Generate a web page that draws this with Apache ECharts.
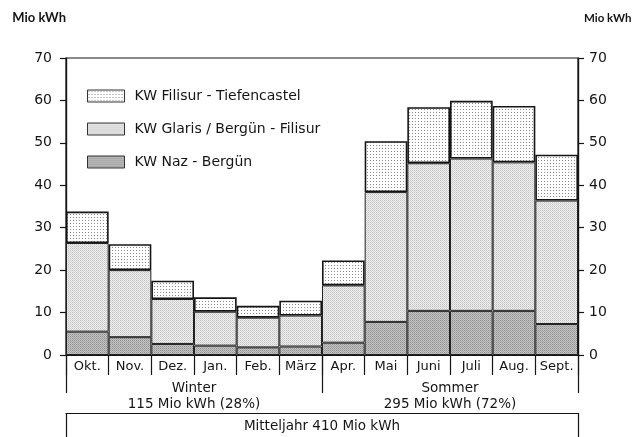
<!DOCTYPE html>
<html><head><meta charset="utf-8">
<script src="https://cdn.jsdelivr.net/npm/echarts@6/dist/echarts.min.js"></script>
<style>html,body{margin:0;padding:0;background:#fff}#c{width:632px;height:437px}</style>
</head><body><div id="c"></div>
<script>
const months = ['Okt.','Nov.','Dez.','Jan.','Feb.','März','Apr.','Mai','Juni','Juli','Aug.','Sept.'];
const seasons = ['Winter\n115 Mio kWh (28%)','Sommer\n295 Mio kWh (72%)'];
const yearLabel = ['Mitteljahr 410 Mio kWh'];
const seriesNames = ['KW Filisur - Tiefencastel','KW Glaris / Bergün - Filisur','KW Naz - Bergün'];
const nazBerguen = [5.5,4.2,2.6,2.2,1.8,2.0, 2.9,7.8,10.4,10.4,10.4,7.3];
const glarisFilisur = [20.9,15.8,10.6,8.0,7.0,7.3, 13.5,30.6,34.8,35.9,35.0,29.1];
const filisurTiefencastel = [7.4,6.1,4.3,3.4,2.8,3.5, 5.9,12.0,13.2,13.6,13.3,10.8];
const yTicks = [0,10,20,30,40,50,60,70];

function pattern(w,h,bg,dots){
  const c=document.createElement('canvas');c.width=w;c.height=h;
  const g=c.getContext('2d');g.fillStyle=bg;g.fillRect(0,0,w,h);
  dots.forEach(d=>{g.fillStyle=d[2];g.fillRect(d[0],d[1],1,1);});
  return {image:c,repeat:'repeat'};
}
const pTop = pattern(3,3,'#ffffff',[[1,1,'#8a8a8a']]);
const pMid = pattern(2,2,'#efefef',[[0,0,'#c2c2c2'],[1,1,'#d4d4d4']]);
const pBot = pattern(2,2,'#c4c4c4',[[0,0,'#8f8f8f'],[1,1,'#a8a8a8']]);

const font = '"DejaVu Sans", sans-serif';
const nameFont = 'Lato, "DejaVu Sans", sans-serif';
const ink = '#151515';
const chart = echarts.init(document.getElementById('c'),null,{renderer:'canvas'});
const yAxisBase = {
  type:'value',min:0,max:70,interval:10,
  axisLine:{show:true,lineStyle:{color:ink,width:1.2}},
  axisTick:{show:true,length:6,lineStyle:{color:ink,width:1.2}},
  splitLine:{show:false},
  axisLabel:{color:ink,fontSize:14,fontFamily:font,formatter:v=>yTicks.includes(v)?String(v):''},
  name:'Mio kWh',nameLocation:'end',nameGap:34,
};
chart.setOption({
  animation:false,
  textStyle:{fontFamily:font},
  grid:{left:66,right:54,top:58,bottom:82,show:true,borderColor:ink,borderWidth:1.2,outerBoundsMode:'none',containLabel:false},
  legend:{
    orient:'vertical',left:82,top:84,itemWidth:37,itemHeight:12,itemGap:19,icon:'rect',
    data:seriesNames,
    textStyle:{color:ink,fontSize:14,fontFamily:font,padding:[0,0,0,5]},
    itemStyle:{borderColor:'#333',borderWidth:1}
  },
  xAxis:[
    {type:'category',data:months,position:'bottom',boundaryGap:true,
     axisLine:{show:true,lineStyle:{color:ink,width:1.2}},
     axisTick:{show:true,interval:0,length:20,lineStyle:{color:ink,width:1.2}},
     axisLabel:{color:ink,fontSize:13,fontFamily:font,margin:5,interval:0,hideOverlap:false},
     splitLine:{show:true,interval:(i)=>i===6,lineStyle:{color:ink,width:1.2}}},
    {type:'category',data:seasons,position:'bottom',offset:20,boundaryGap:true,
     axisLine:{show:true,lineStyle:{color:ink,width:1.2}},
     axisTick:{show:true,interval:0,length:38,lineStyle:{color:ink,width:1.2}},
     axisLabel:{color:ink,fontSize:13.5,fontFamily:font,margin:5,lineHeight:16,interval:0},
     splitLine:{show:false}},
    {type:'category',data:yearLabel,position:'bottom',offset:58,boundaryGap:true,
     axisLine:{show:true,lineStyle:{color:ink,width:1.2}},
     axisTick:{show:true,interval:0,length:30,lineStyle:{color:ink,width:1.2}},
     axisLabel:{color:ink,fontSize:13.5,fontFamily:font,margin:6,interval:0},
     splitLine:{show:false}}
  ],
  yAxis:[
    Object.assign({},yAxisBase,{position:'left',
      axisLabel:Object.assign({},yAxisBase.axisLabel,{margin:14}),
      nameTextStyle:{color:ink,fontSize:13,fontFamily:nameFont,fontWeight:'bold',align:'right'}}),
    Object.assign({},yAxisBase,{position:'right',
      axisLabel:Object.assign({},yAxisBase.axisLabel,{margin:11}),
      nameTextStyle:{color:ink,fontSize:11.5,fontFamily:nameFont,fontWeight:'bold',align:'left',padding:[0,0,0,6]}})
  ],
  series:[
    {name:seriesNames[2],type:'bar',stack:'a',data:nazBerguen,barCategoryGap:'0%',
     itemStyle:{color:pBot,borderColor:'#222',borderWidth:1}},
    {name:seriesNames[1],type:'bar',stack:'a',data:glarisFilisur,barCategoryGap:'0%',
     itemStyle:{color:pMid,borderColor:'#222',borderWidth:1}},
    {name:seriesNames[0],type:'bar',stack:'a',data:filisurTiefencastel,barCategoryGap:'0%',
     itemStyle:{color:pTop,borderColor:ink,borderWidth:1.6}}
  ]
});
</script></body></html>
